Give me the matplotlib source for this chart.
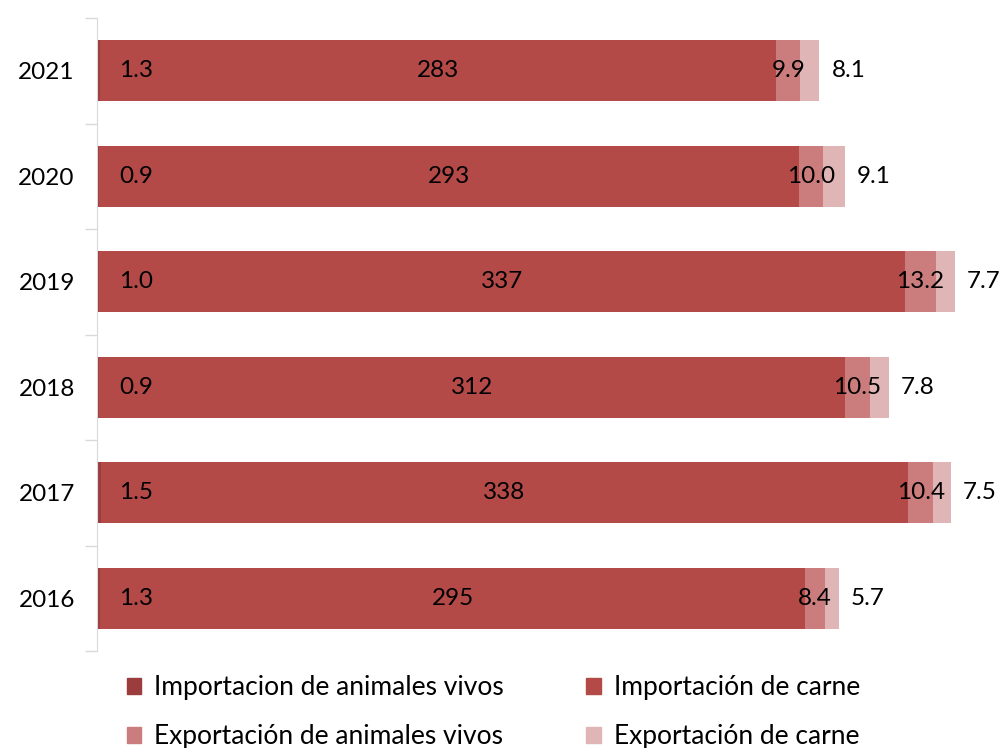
import matplotlib.pyplot as plt
from matplotlib.patches import Patch
from matplotlib.transforms import offset_copy

plt.rcParams['font.family'] = ['Lato', 'DejaVu Sans']

years = ['2021', '2020', '2019', '2018', '2017', '2016']
imp_vivos = [1.3, 0.9, 1.0, 0.9, 1.5, 1.3]
imp_carne = [283, 293, 337, 312, 338, 295]
exp_vivos = [9.9, 10.0, 13.2, 10.5, 10.4, 8.4]
exp_carne = [8.1, 9.1, 7.7, 7.8, 7.5, 5.7]

series = ['Importacion de animales vivos', 'Importación de carne',
          'Exportación de animales vivos', 'Exportación de carne']
colors = ['#9c3d3d', '#b34a48', '#cb7c7c', '#e0b5b5']

fig = plt.figure(figsize=(10.04, 7.48), dpi=100)
ax = fig.add_axes([97 / 1004, (748 - 651) / 748, 888 / 1004, 633 / 748])

ypos = list(range(len(years)))[::-1]  # 2021 at top
h = 0.58
left = [0.0] * len(years)
data = [imp_vivos, imp_carne, exp_vivos, exp_carne]
for vals, c in zip(data, colors):
    ax.barh(ypos, vals, left=left, height=h, color=c, linewidth=0)
    left = [l + v for l, v in zip(left, vals)]

fs = 17.5
for i, y in enumerate(ypos):
    # vivos import label near start
    t = offset_copy(ax.transData, fig=fig, x=22, y=0, units='dots')
    ax.text(0, y, f'{imp_vivos[i]:.1f}', transform=t, ha='left', va='center', fontsize=fs)
    ax.text(imp_vivos[i] + imp_carne[i] / 2, y, f'{imp_carne[i]}', ha='center', va='center', fontsize=fs)
    s = imp_vivos[i] + imp_carne[i]
    ax.text(s + exp_vivos[i] / 2, y, f'{exp_vivos[i]:.1f}', ha='center', va='center', fontsize=fs)
    end = s + exp_vivos[i] + exp_carne[i]
    t2 = offset_copy(ax.transData, fig=fig, x=12, y=0, units='dots')
    ax.text(end, y, f'{exp_carne[i]:.1f}', transform=t2, ha='left', va='center', fontsize=fs)

ax.set_xlim(0, 888 / 2.39)
ax.set_ylim(-0.5, len(years) - 0.5)
ax.set_yticks(ypos)
ax.set_yticklabels(years, fontsize=17.5)
ax.set_yticks([k + 0.5 for k in range(-1, len(years))], minor=True)
ax.tick_params(axis='y', which='major', length=0, pad=16)
ax.tick_params(axis='y', which='minor', length=9, color='#d9d9d9', width=1)
ax.set_xticks([])
for sp in ['top', 'right', 'bottom']:
    ax.spines[sp].set_visible(False)
ax.spines['left'].set_color('#d9d9d9')

handles = [Patch(color=c, label=s) for c, s in zip(colors, series)]
order = [0, 2, 1, 3]  # legend fills column-wise
fig.legend(handles=[handles[k] for k in order], ncol=2, loc='lower left',
           bbox_to_anchor=(103 / 1004, -0.033),
           frameon=False, fontsize=19, handlelength=0.55, handleheight=0.55,
           handletextpad=0.5, columnspacing=3.1, labelspacing=0.89)

fig.savefig('out.png', dpi=100)
